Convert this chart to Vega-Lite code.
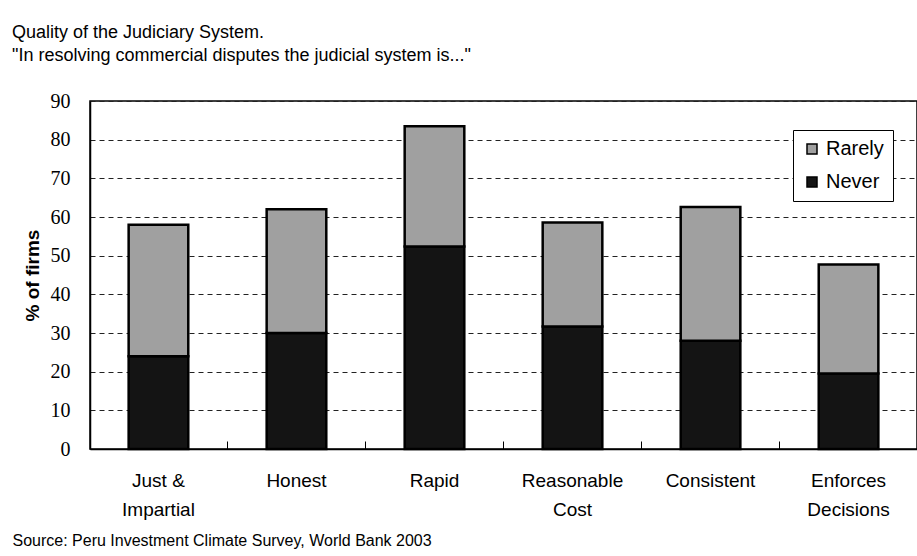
{
  "$schema": "https://vega.github.io/schema/vega-lite/v6.json",
  "autosize": "none",
  "width": 827,
  "height": 348,
  "padding": {"left": 90, "top": 101, "right": 0, "bottom": 107},
  "background": "white",
  "title": {
    "text": "Quality of the Judiciary System.",
    "subtitle": "\"In resolving commercial disputes the judicial system is...\"",
    "anchor": "start",
    "frame": "group",
    "dx": -78,
    "offset": 26,
    "font": "Liberation Sans",
    "fontSize": 18,
    "fontWeight": "normal",
    "color": "black",
    "subtitleFont": "Liberation Sans",
    "subtitleFontSize": 18,
    "subtitleColor": "black",
    "subtitlePadding": 5
  },
  "data": {
    "values": [
      {"category": "Just & Impartial", "answer": "Never", "pct": 24.0},
      {"category": "Just & Impartial", "answer": "Rarely", "pct": 34.0},
      {"category": "Honest", "answer": "Never", "pct": 30.0},
      {"category": "Honest", "answer": "Rarely", "pct": 32.0},
      {"category": "Rapid", "answer": "Never", "pct": 52.4},
      {"category": "Rapid", "answer": "Rarely", "pct": 31.1},
      {"category": "Reasonable Cost", "answer": "Never", "pct": 31.7},
      {"category": "Reasonable Cost", "answer": "Rarely", "pct": 26.9},
      {"category": "Consistent", "answer": "Never", "pct": 28.0},
      {"category": "Consistent", "answer": "Rarely", "pct": 34.6},
      {"category": "Enforces Decisions", "answer": "Never", "pct": 19.5},
      {"category": "Enforces Decisions", "answer": "Rarely", "pct": 28.2}
    ]
  },
  "mark": {"type": "bar", "stroke": "black", "strokeWidth": 2.5},
  "encoding": {
    "x": {
      "field": "category",
      "type": "nominal",
      "sort": null,
      "scale": {"paddingInner": 0.568, "paddingOuter": 0.28},
      "axis": {
        "title": "Source: Peru Investment Climate Survey, World Bank 2003",
        "titleFont": "Liberation Sans",
        "titleFontSize": 16,
        "titleFontWeight": "normal",
        "titleColor": "black",
        "titleAnchor": "start",
        "titleAlign": "left",
        "titleBaseline": "middle",
        "titleX": -78,
        "titleY": 91,
        "labelAngle": 0,
        "labelFont": "Liberation Sans",
        "labelFontSize": 19,
        "labelColor": "black",
        "labelLineHeight": 29,
        "labelBaseline": "top",
        "labelPadding": 30,
        "labelExpr": "datum.label == 'Just & Impartial' ? ['Just &', 'Impartial'] : datum.label == 'Reasonable Cost' ? ['Reasonable', 'Cost'] : datum.label == 'Enforces Decisions' ? ['Enforces', 'Decisions'] : datum.label",
        "domainColor": "black",
        "domainWidth": 1.5,
        "ticks": true,
        "tickColor": "black",
        "tickSize": -8,
        "bandPosition": 1.657,
        "grid": false
      }
    },
    "y": {
      "field": "pct",
      "type": "quantitative",
      "stack": "zero",
      "scale": {"domain": [0, 90], "nice": false},
      "axis": {
        "title": "% of firms",
        "titleFont": "Liberation Sans",
        "titleFontSize": 19,
        "titleFontWeight": "bold",
        "titleColor": "black",
        "titleAngle": -90,
        "titleX": -58,
        "titleY": 174,
        "titleAlign": "center",
        "titleBaseline": "middle",
        "values": [0, 10, 20, 30, 40, 50, 60, 70, 80, 90],
        "labelFont": "Liberation Serif",
        "labelFontSize": 20,
        "labelColor": "black",
        "labelPadding": 20,
        "ticks": false,
        "domainColor": "black",
        "domainWidth": 1.5,
        "grid": true,
        "gridColor": "#222222",
        "gridWidth": 1,
        "gridDash": [5, 4]
      }
    },
    "color": {
      "field": "answer",
      "type": "nominal",
      "scale": {"domain": ["Rarely", "Never"], "range": ["#a0a0a0", "#141414"]},
      "legend": {
        "title": null,
        "orient": "none",
        "legendX": 703,
        "legendY": 29,
        "symbolType": "square",
        "symbolSize": 100,
        "symbolStrokeColor": "black",
        "symbolStrokeWidth": 1.5,
        "labelFont": "Liberation Sans",
        "labelFontSize": 20,
        "labelColor": "black",
        "rowPadding": 13,
        "padding": 9,
        "strokeColor": "black",
        "fillColor": "white"
      }
    },
    "order": {"field": "answer", "sort": "ascending"}
  },
  "config": {
    "view": {"stroke": "black", "strokeWidth": 1.5}
  }
}
